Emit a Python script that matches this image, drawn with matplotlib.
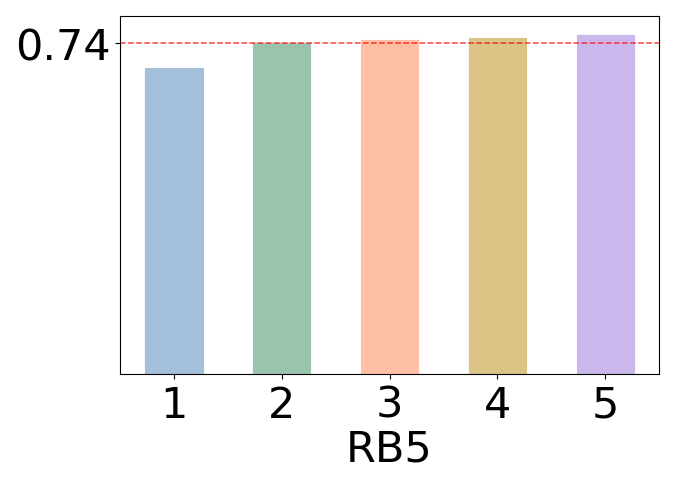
import numpy as np
import matplotlib
matplotlib.use("Agg")
from matplotlib import pyplot as plt

# data
categories = ["1", "2", "3", "4", "5"]
values = [0.6855, 0.7405, 0.748, 0.753, 0.759]
colors = ["#a3bfd9", "#99c5ae", "#ffbea6", "#dbc486", "#cab8ec"]
ref_value = 0.74
x_label = "RB5"

fig = plt.figure(figsize=(6.76, 4.89), dpi=100)
ax = fig.add_axes([0.1775, 0.233, 0.7975, 0.733])

x = np.arange(1, len(categories) + 1)
ax.bar(x, values, width=0.55, color=colors, edgecolor="white", linewidth=0.6)
ax.axhline(ref_value, color="red", linestyle="--", linewidth=1.1, alpha=0.75)

ax.set_xlim(0.5, 5.5)
ax.set_ylim(0, 0.8)
ax.set_xticks(x)
ax.set_xticklabels(categories)
ax.set_yticks([ref_value])
ax.set_yticklabels([f"{ref_value:.2f}"])
ax.tick_params(labelsize=31)
ax.set_xlabel(x_label, fontsize=31, labelpad=1)

fig.savefig("out.png", dpi=100)
